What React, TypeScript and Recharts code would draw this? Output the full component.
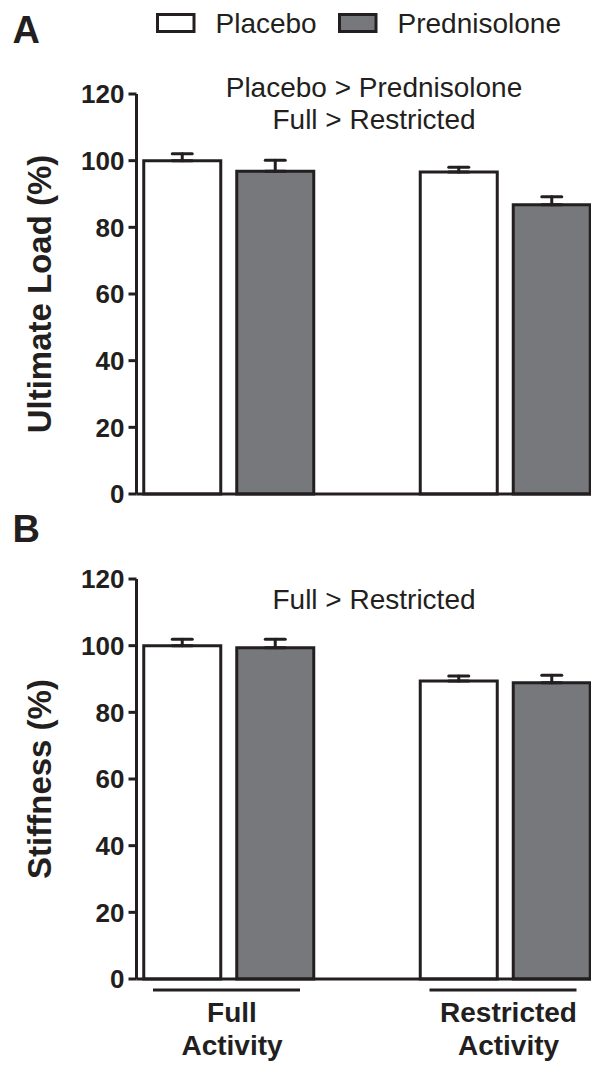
import { BarChart, Bar, XAxis, YAxis, ErrorBar } from "recharts";

const GROUPS = ["Full", "Restricted"];
const GROUP_LABELS = [
  ["Full", "Activity"],
  ["Restricted", "Activity"],
];
const SERIES = ["Placebo", "Prednisolone"];

// panel A: ultimate load (%)
const LOAD_PLACEBO = [100, 96.6];
const LOAD_PLACEBO_SEM = [2.1, 1.4];
const LOAD_PRED = [96.8, 86.8];
const LOAD_PRED_SEM = [3.3, 2.4];

// panel B: stiffness (%)
const STIFF_PLACEBO = [100, 89.4];
const STIFF_PLACEBO_SEM = [1.9, 1.5];
const STIFF_PRED = [99.4, 88.9];
const STIFF_PRED_SEM = [2.5, 2.2];

const Y_TICKS = [0, 20, 40, 60, 80, 100, 120];

const INK = "#231f20";
const GREY = "#77787b";
const FILLS = ["#ffffff", GREY];
const FONT = "'Liberation Sans', Arial, Helvetica, sans-serif";

function buildRows(placebo: number[], placeboSem: number[], pred: number[], predSem: number[]) {
  return GROUPS.map((group, i) => ({
    group,
    placebo: placebo[i],
    placeboErr: [0, placeboSem[i]],
    pred: pred[i],
    predErr: [0, predSem[i]],
  }));
}

const loadRows = buildRows(LOAD_PLACEBO, LOAD_PLACEBO_SEM, LOAD_PRED, LOAD_PRED_SEM);
const stiffRows = buildRows(STIFF_PLACEBO, STIFF_PLACEBO_SEM, STIFF_PRED, STIFF_PRED_SEM);

function GroupTick(props: any) {
  const { x, y, index } = props;
  const lines = GROUP_LABELS[index] || [];
  return (
    <g>
      <line x1={x - 76} x2={x + 71} y1={y + 11} y2={y + 11} stroke={INK} strokeWidth={3} />
      {lines.map((t, i) => (
        <text
          key={t + i}
          x={x + 3}
          y={y + 43 + i * 33}
          textAnchor="middle"
          fontFamily={FONT}
          fontWeight={700}
          fontSize={28}
          fill={INK}
        >
          {t}
        </text>
      ))}
    </g>
  );
}

function Panel({
  data,
  top,
  height,
  marginTop,
  xAxisHeight,
  groupLabels,
}: {
  data: any[];
  top: number;
  height: number;
  marginTop: number;
  xAxisHeight: number;
  groupLabels: boolean;
}) {
  return (
    <div style={{ position: "absolute", left: 0, top }}>
      <BarChart
        width={591}
        height={height}
        data={data}
        margin={{ top: marginTop, right: 0, bottom: 0, left: 0 }}
        barSize={77}
        barGap={16}
      >
        <XAxis
          dataKey="group"
          height={xAxisHeight}
          padding={{ left: -45.75, right: -52.75 }}
          axisLine={{ stroke: INK, strokeWidth: 3 }}
          tickLine={false}
          tickSize={0}
          tickMargin={0}
          interval={0}
          tick={groupLabels ? <GroupTick /> : false}
        />
        <YAxis
          type="number"
          domain={[0, 120]}
          ticks={Y_TICKS}
          interval={0}
          width={136.5}
          axisLine={{ stroke: INK, strokeWidth: 3 }}
          tickLine={{ stroke: INK, strokeWidth: 3 }}
          tickSize={8}
          tickMargin={4}
          tick={{ fill: INK, fontSize: 26, fontWeight: 700, fontFamily: FONT }}
        />
        <Bar dataKey="placebo" name={SERIES[0]} fill={FILLS[0]} stroke={INK} strokeWidth={3} isAnimationActive={false}>
          <ErrorBar dataKey="placeboErr" direction="y" width={10} stroke={INK} strokeWidth={3} strokeLinecap="round" />
        </Bar>
        <Bar dataKey="pred" name={SERIES[1]} fill={FILLS[1]} stroke={INK} strokeWidth={3} isAnimationActive={false}>
          <ErrorBar dataKey="predErr" direction="y" width={10} stroke={INK} strokeWidth={3} strokeLinecap="round" />
        </Bar>
      </BarChart>
    </div>
  );
}

export default function App() {
  const legendX = [157.5, 339.5];
  return (
    <div
      style={{
        position: "absolute",
        left: 0,
        top: 0,
        width: 591,
        height: 1066,
        background: "#fff",
        overflow: "hidden",
      }}
    >
      <Panel data={loadRows} top={0} height={514} marginTop={94} xAxisHeight={20} groupLabels={false} />
      <Panel data={stiffRows} top={514} height={552} marginTop={65} xAxisHeight={87} groupLabels={true} />

      {/* labels, legend, annotations */}
      <svg
        width={591}
        height={1066}
        style={{ position: "absolute", left: 0, top: 0, pointerEvents: "none" }}
        fontFamily={FONT}
        fill={INK}
      >
        <text x={12.5} y={43} fontSize={38} fontWeight={700}>A</text>
        <text x={12.5} y={542} fontSize={38} fontWeight={700}>B</text>

        {SERIES.map((s, i) => (
          <g key={s}>
            <rect x={legendX[i]} y={14.5} width={36.5} height={17} fill={FILLS[i]} stroke={INK} strokeWidth={3} />
            <text x={legendX[i] + 58} y={33} fontSize={28}>{s}</text>
          </g>
        ))}

        <text x={374} y={97} fontSize={28} textAnchor="middle">Placebo &gt; Prednisolone</text>
        <text x={374} y={129} fontSize={28} textAnchor="middle">Full &gt; Restricted</text>
        <text x={374} y={609} fontSize={28} textAnchor="middle">Full &gt; Restricted</text>

        <text
          x={39}
          y={294}
          fontSize={33}
          fontWeight={700}
          textAnchor="middle"
          dominantBaseline="central"
          transform="rotate(-90, 39, 294)"
        >
          Ultimate Load (%)
        </text>
        <text
          x={39}
          y={779}
          fontSize={33}
          fontWeight={700}
          textAnchor="middle"
          dominantBaseline="central"
          transform="rotate(-90, 39, 779)"
        >
          Stiffness (%)
        </text>
      </svg>
    </div>
  );
}
